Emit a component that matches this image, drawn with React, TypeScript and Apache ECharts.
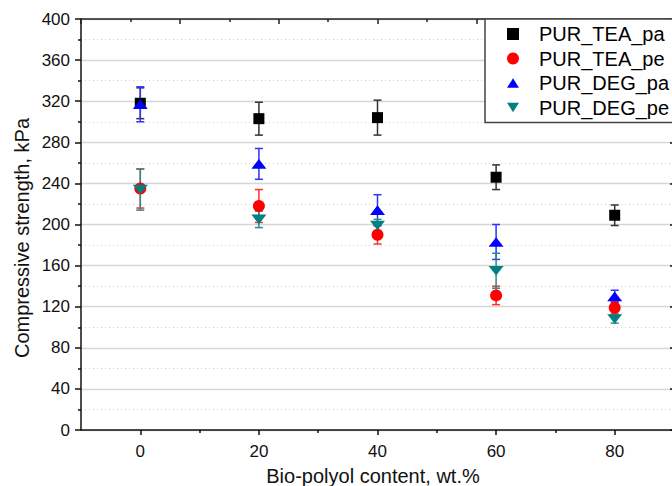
import React, { useEffect, useRef } from "react";
import * as echarts from "echarts";

const xValues = [0, 20, 40, 60, 80];
const seriesNames = ["PUR_TEA_pa", "PUR_TEA_pe", "PUR_DEG_pa", "PUR_DEG_pe"];
const teaPa = [318, 303, 304, 246, 209];
const teaPaErr = [15, 16, 17, 12, 10];
const teaPe = [235, 218, 190, 131, 119];
const teaPeErr = [19, 16, 9, 9, 6];
const degPa = [317, 259, 214, 183, 130];
const degPaErr = [17, 15, 15, 17, 6];
const degPe = [234, 205, 199, 155, 108];
const degPeErr = [20, 8, 6, 17, 4];
const yTicks = [0, 40, 80, 120, 160, 200, 240, 280, 320, 360, 400];
const xMajorTicks = [0, 20, 40, 60, 80];
const xMinorTicks = [10, 30, 50, 70];

const FONT = "'Liberation Sans', Arial, sans-serif";
const colors = ["#000000", "#ff0000", "#0000ff", "#008080"];
const barColors = ["#333333", "#ff3030", "#3030ff", "#2a8a8a"];
const symbols = [
  "path://M0,0 L10,0 L10,10 L0,10 Z",
  "circle",
  "path://M10,0 L20,16 L0,16 Z",
  "path://M0,0 L20,0 L10,16 Z",
];
const symbolSizes: any[] = [11, 12, [15, 12], [15, 12]];

export default function App() {
  const ref = useRef<HTMLDivElement>(null);
  useEffect(() => {
    document.body.style.margin = "0";
    document.body.style.overflow = "hidden";
    const chart = echarts.init(ref.current!, null, { renderer: "svg" });
    const values = [teaPa, teaPe, degPa, degPe];
    const errs = [teaPaErr, teaPeErr, degPaErr, degPeErr];
    const series: any[] = [];
    values.forEach((vals, i) => {
      const errData = xValues.map((x, j) => [x, vals[j] - errs[i][j], vals[j] + errs[i][j]]);
      const col = barColors[i];
      series.push({
        type: "custom",
        name: "err" + i,
        xAxisIndex: 0,
        yAxisIndex: 0,
        data: errData,
        encode: { x: 0, y: [1, 2] },
        renderItem: (params: any, api: any) => {
          const x = api.value(0);
          const lo = api.coord([x, api.value(1)]);
          const hi = api.coord([x, api.value(2)]);
          const cap = 4;
          const st = { stroke: col, lineWidth: 1.5 };
          return {
            type: "group",
            children: [
              { type: "line", shape: { x1: lo[0], y1: lo[1], x2: hi[0], y2: hi[1] }, style: st },
              { type: "line", shape: { x1: lo[0] - cap, y1: lo[1], x2: lo[0] + cap, y2: lo[1] }, style: st },
              { type: "line", shape: { x1: hi[0] - cap, y1: hi[1], x2: hi[0] + cap, y2: hi[1] }, style: st },
            ],
          };
        },
      });
      series.push({
        type: "scatter",
        name: seriesNames[i],
        xAxisIndex: 0,
        yAxisIndex: 0,
        data: xValues.map((x, j) => [x, vals[j]]),
        symbol: symbols[i],
        symbolSize: symbolSizes[i],
        symbolKeepAspect: true,
        itemStyle: { color: colors[i], opacity: 1 },
      });
    });

    chart.setOption({
      animation: false,
      backgroundColor: "#ffffff",
      grid: { left: 81, right: -2, top: 19, bottom: 56, containLabel: false, outerBoundsMode: "none" },
      legend: {
        orient: "vertical",
        left: 485,
        top: 19,
        padding: [5, 70, 5, 22],
        itemWidth: 12,
        itemHeight: 12,
        itemGap: 4.5,
        symbolKeepAspect: true,
        borderColor: "#444444",
        borderWidth: 1.5,
        borderRadius: 0,
        backgroundColor: "#ffffff",
        textStyle: { fontSize: 20, fontFamily: FONT, color: "#000", lineHeight: 20, padding: [0, 0, 0, 15] },
        data: seriesNames,
      },
      xAxis: [
        {
          type: "value",
          position: "bottom",
          min: -10,
          max: 90,
          axisLine: { show: true, onZero: false, lineStyle: { color: "#111", width: 1.5 } },
          axisTick: { show: true, customValues: xMajorTicks, length: 5, lineStyle: { color: "#111", width: 1.5 } },
          axisLabel: { customValues: xMajorTicks, fontSize: 17, fontFamily: FONT, color: "#111", margin: 13 },
          splitLine: { show: false },
        },
        {
          type: "value",
          position: "bottom",
          min: -10,
          max: 90,
          axisLine: { show: false, onZero: false },
          axisTick: { show: true, customValues: xMinorTicks, length: 3, lineStyle: { color: "#111", width: 1.5 } },
          axisLabel: { show: false },
          splitLine: { show: false },
        },
        {
          type: "value",
          position: "top",
          min: 0,
          max: 12,
          interval: 2,
          axisLine: { show: true, onZero: false, lineStyle: { color: "#222", width: 1.5 } },
          axisTick: { show: true, inside: true, length: 5, lineStyle: { color: "#222", width: 1.5 } },
          minorTick: { show: true, splitNumber: 2, length: 3, lineStyle: { color: "#222", width: 1.5 } },
          axisLabel: { show: false },
          splitLine: { show: false },
        },
      ],
      yAxis: [
        {
          type: "value",
          position: "left",
          min: yTicks[0],
          max: yTicks[yTicks.length - 1],
          interval: 40,
          axisLine: { show: true, onZero: false, lineStyle: { color: "#111", width: 1.5 } },
          axisTick: { show: true, length: 6, lineStyle: { color: "#111", width: 1.5 } },
          minorTick: { show: true, splitNumber: 2, length: 3, lineStyle: { color: "#111", width: 1.5 } },
          axisLabel: { fontSize: 17, fontFamily: FONT, color: "#111", margin: 11 },
          splitLine: { show: true, lineStyle: { color: "#d6d6d6", width: 1.3 } },
          minorSplitLine: { show: true, lineStyle: { color: "#d0d0d0", width: 1, type: [1, 3] } },
        },
        {
          type: "value",
          position: "right",
          min: yTicks[0],
          max: yTicks[yTicks.length - 1],
          interval: 40,
          axisLine: { show: true, onZero: false, lineStyle: { color: "#111", width: 1.5 } },
          axisTick: { show: true, inside: true, length: 4, lineStyle: { color: "#111", width: 1.5 } },
          axisLabel: { show: false },
          splitLine: { show: false },
        },
      ],
      graphic: [
        {
          type: "text",
          x: 22,
          y: 238,
          rotation: Math.PI / 2,
          style: {
            text: "Compressive strength, kPa",
            fontSize: 20,
            fontFamily: FONT,
            fill: "#111",
            align: "center",
            verticalAlign: "middle",
          },
        },
        {
          type: "text",
          x: 373,
          y: 476,
          style: {
            text: "Bio-polyol content, wt.%",
            fontSize: 20,
            fontFamily: FONT,
            fill: "#111",
            align: "center",
            verticalAlign: "middle",
          },
        },
      ],
      series,
    });
    return () => chart.dispose();
  }, []);
  return <div ref={ref} style={{ width: 672, height: 486 }} />;
}
